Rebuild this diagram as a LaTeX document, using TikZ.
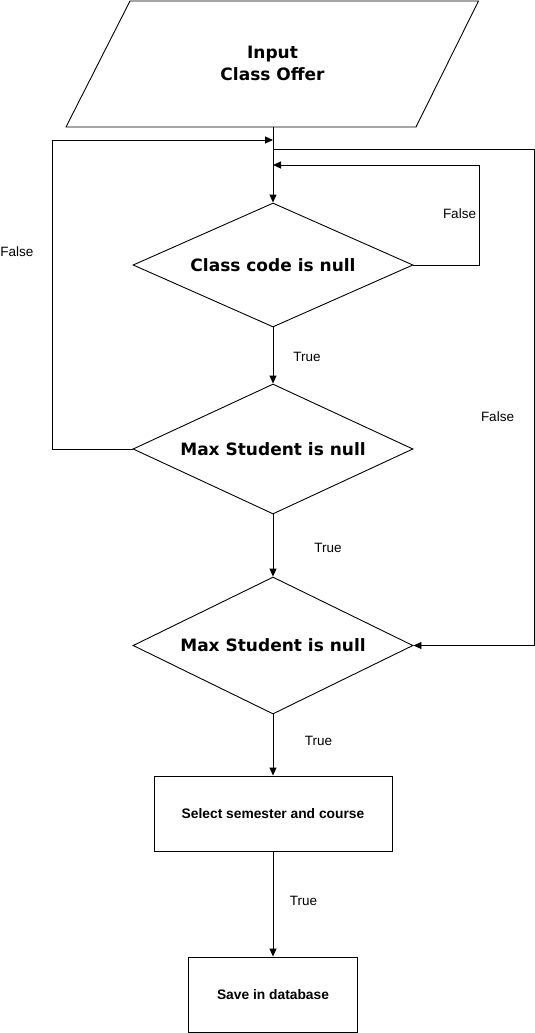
\documentclass[tikz,border=0pt]{standalone}
\usepackage{fontspec}
\setmainfont{Liberation Sans}
\newfontfamily\dvfont{DejaVu Sans}
\usetikzlibrary{shapes.geometric,arrows.meta}
\begin{document}
\begin{tikzpicture}[x=1pt,y=-1pt,
  dec/.style={diamond, draw, line width=0.9pt, minimum width=280pt, inner sep=0pt,
    font=\dvfont\bfseries\fontsize{17}{20}\selectfont},
  procbox/.style={rectangle, draw, line width=0.9pt, inner sep=0pt, minimum height=75pt,
    font=\bfseries\fontsize{13.8}{16}\selectfont},
  lbl/.style={inner sep=0pt, font=\fontsize{13.5}{16}\selectfont},
  conn/.style={draw, line width=0.9pt, -{Triangle[length=8pt,width=7pt]}},
  plainline/.style={draw, line width=0.9pt}]
\useasboundingbox (0,0) rectangle (535,1033);

% input parallelogram
\draw[plainline] (130,1) -- (478.5,1) -- (416,127) -- (66,127) -- cycle;
\node[align=center, inner sep=0pt, font=\dvfont\bfseries\fontsize{17}{22}\selectfont] (inp) at (272.5,63) {Input\\Class Offer};
\coordinate (inb) at (273,127);

% decisions
\node[dec, aspect=2.258, minimum height=124pt] (d1) at (273,265) {Class code is null};
\node[dec, aspect=2.154, minimum height=130pt] (d2) at (273,449) {Max Student is null};
\node[dec, aspect=2.044, minimum height=137pt] (d3) at (273,645.5) {Max Student is null};

% boxes
\node[procbox, minimum width=238pt] (b1) at (273,813.5) {Select semester and course};
\node[procbox, minimum width=169pt] (b2) at (273,994.5) {Save in database};

% join points on main line
\coordinate (lj) at (273,140);
\coordinate (rj) at (273,149);
\coordinate (ij) at (273,165);

% main flow
\draw[conn] (inb) -- (d1.north);
\draw[conn] (d1.south) -- (d2.north);
\draw[conn] (d2.south) -- (d3.north);
\draw[conn] (d3.south) -- (b1.north);
\draw[conn] (b1.south) -- (b2.north);

% loops
\draw[conn] (d1.east) -- ++(66,0) |- (ij);
\draw[conn] (d2.west) -- ++(-80,0) |- (lj);
\draw[conn] (rj) -- ++(261,0) |- (d3.east);

% labels
\node[lbl] (f1) at (459.5,214) {False};
\node[lbl] (f2) at (17,252) {False};
\node[lbl] (t1) at (307,357) {True};
\node[lbl] (f3) at (497.5,417) {False};
\node[lbl] (t2) at (328,548) {True};
\node[lbl] (t3) at (318.5,741) {True};
\node[lbl] (t4) at (303.5,901) {True};
\end{tikzpicture}
\end{document}
